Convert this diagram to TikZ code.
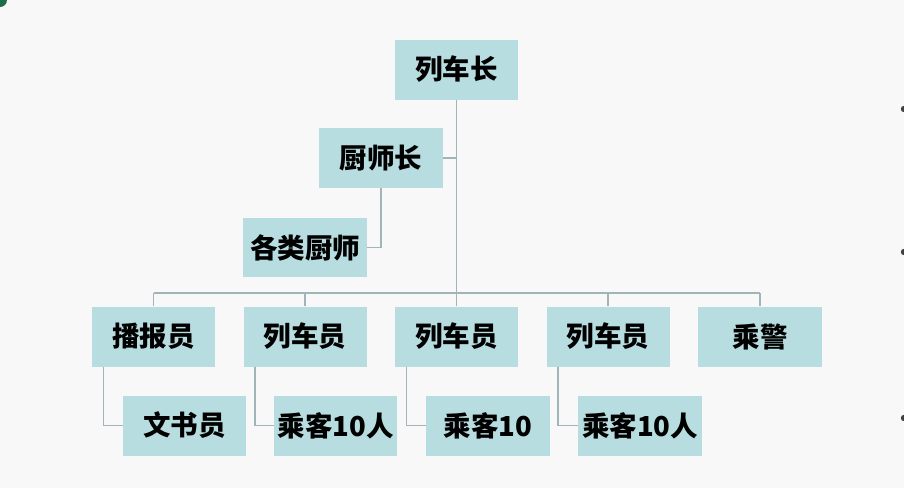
\documentclass[tikz,border=0pt]{standalone}
\usepackage{fontspec}
\newfontfamily\cjk{Noto Sans CJK SC}
\definecolor{boxfill}{RGB}{183,221,224}
\definecolor{linec}{RGB}{160,180,186}
\definecolor{bgc}{RGB}{248,248,248}
\definecolor{dotgreen}{RGB}{30,110,70}
\tikzset{
  orgbox/.style={fill=boxfill, draw=none, minimum width=123pt, minimum height=60pt, inner sep=0pt,
    font=\cjk\bfseries\fontsize{27.5}{31}\selectfont, text=black},
  conn/.style={draw=linec, line width=1.4pt}
}
\begin{document}
\begin{tikzpicture}[x=1pt,y=-1pt]
\fill[bgc] (0,0) rectangle (904,488);
\useasboundingbox (0,0) rectangle (904,488);
% decorative bits at edges
\fill[dotgreen] (0,0) circle (7);
\fill[black!75] (904,109) circle (3.2);
\fill[black!75] (904,252) circle (3.2);
\fill[black!75] (904,418) circle (3.2);

\node[orgbox] (head) at (456.5,69.5) {列车长};
\node[orgbox,minimum width=124pt] (chef) at (381,158) {厨师长};
\node[orgbox,minimum width=124pt, minimum height=59pt] (cooks) at (305,247.5) {各类厨师};

\node[orgbox] (b1) at (153.5,336.5) {播报员};
\node[orgbox] (b2) at (305,336.5) {列车员};
\node[orgbox] (b3) at (456.5,336.5) {列车员};
\node[orgbox] (b4) at (608,336.5) {列车员};
\node[orgbox,minimum width=124pt] (b5) at (760,336.5) {乘警};

\node[orgbox] (c1) at (184.5,425.5) {文书员};
\node[orgbox] (c2) at (335.5,425.5) {乘客10人};
\node[orgbox,minimum width=124pt] (c3) at (488,425.5) {乘客10};
\node[orgbox,minimum width=124pt] (c4) at (640,425.5) {乘客10人};

\coordinate (busL) at (153.5,293);
\coordinate (busR) at (760,293);
\coordinate (mid) at (456.5,293);

\draw[conn] (head.south) -- (mid);
\draw[conn] (busL) -- (busR);
\draw[conn] (chef.east) -- (chef.east -| head.south);
\draw[conn] (cooks.east) -| (chef.south);
\foreach \n in {b1,b2,b3,b4,b5} {
  \draw[conn] (\n.north) -- (\n.north |- busL);
}
\draw[conn] ([xshift=-50pt]b1.south) |- (c1.west);
\draw[conn] ([xshift=-50pt]b2.south) |- (c2.west);
\draw[conn] ([xshift=-50pt]b3.south) |- (c3.west);
\draw[conn] ([xshift=-50pt]b4.south) |- (c4.west);
\end{tikzpicture}
\end{document}
